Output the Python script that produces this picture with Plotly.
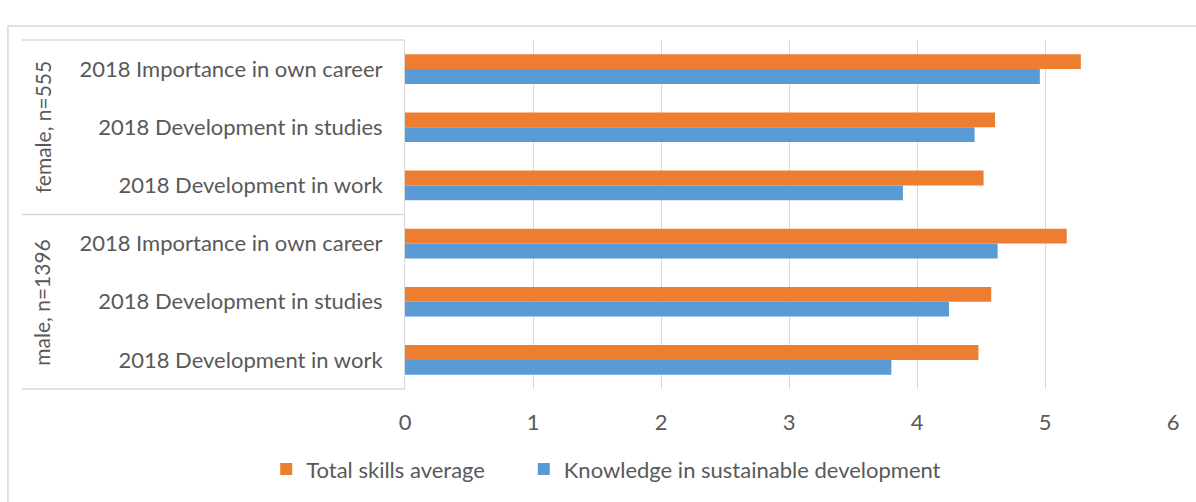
"""Grouped horizontal bar chart: skills ratings by gender, Excel style."""

import plotly.graph_objects as go

# data, listed top to bottom as in the chart
groups = ["female, n=555", "male, n=1396"]
items = [
    "2018 Importance in own career",
    "2018 Development in studies",
    "2018 Development in work",
]
total_skills = [5.28, 4.61, 4.52, 5.17, 4.58, 4.48]
knowledge_sd = [4.96, 4.45, 3.89, 4.63, 4.25, 3.80]
x_ticks = [0, 1, 2, 3, 4, 5, 6]

cats = [f"{g}|{it}" for g in groups for it in items]
labels = [it for g in groups for it in items]

FONT = "Lato"
TXT = "#595959"
GRID = "#D9D9D9"

fig = go.Figure()
# trailing no-break spaces widen the gap between the two legend entries
fig.add_trace(go.Bar(y=cats, x=total_skills, orientation="h",
                     name="Total skills average" + "\u00a0" * 6,
                     marker=dict(color="#ED7D31", line=dict(width=0))))
fig.add_trace(go.Bar(y=cats, x=knowledge_sd, orientation="h", name="Knowledge in sustainable development",
                     marker=dict(color="#5B9BD5", line=dict(width=0))))

fig.update_layout(
    width=1196, height=502,
    margin=dict(l=405, r=23, t=40, b=110),
    paper_bgcolor="white", plot_bgcolor="white",
    font=dict(family=FONT, size=22, color=TXT),
    barmode="group", bargap=0.49, bargroupgap=0,
    showlegend=True,
    legend=dict(orientation="h", x=0.262, xanchor="center", y=-0.23, yanchor="middle",
                font=dict(size=22, color=TXT), traceorder="normal",
                itemwidth=30, itemclick=False),
)
fig.update_xaxes(range=[0, 6], tickvals=x_ticks, showgrid=True, gridcolor=GRID, gridwidth=1,
                 zeroline=False, showline=False, ticks="", ticklabelstandoff=18)
fig.update_yaxes(type="category", categoryorder="array", categoryarray=cats,
                 autorange="reversed", tickvals=cats, ticktext=labels,
                 showgrid=False, showline=True, linecolor=GRID, linewidth=1,
                 ticks="", ticklabelstandoff=17)

# Excel-like category dividers and group labels
for yy in [0, 0.5, 1]:
    fig.add_shape(type="line", xref="paper", yref="paper", x0=-0.499, x1=0, y0=yy, y1=yy,
                  line=dict(color=GRID, width=1.5))
fig.add_shape(type="rect", xref="paper", yref="paper", x0=-0.517, x1=1.04, y0=-0.35, y1=1.04,
              line=dict(color=GRID, width=1.5), layer="below")
for i, g in enumerate(groups):
    fig.add_annotation(text=g, xref="paper", yref="y", x=-0.4727, y=cats[i * 3 + 1],
                       textangle=-90, showarrow=False, xanchor="center", yanchor="middle",
                       font=dict(family=FONT, size=21, color=TXT))

fig.write_html("out.html", config={"displayModeBar": False},
               post_script="document.body.style.margin='0';")
